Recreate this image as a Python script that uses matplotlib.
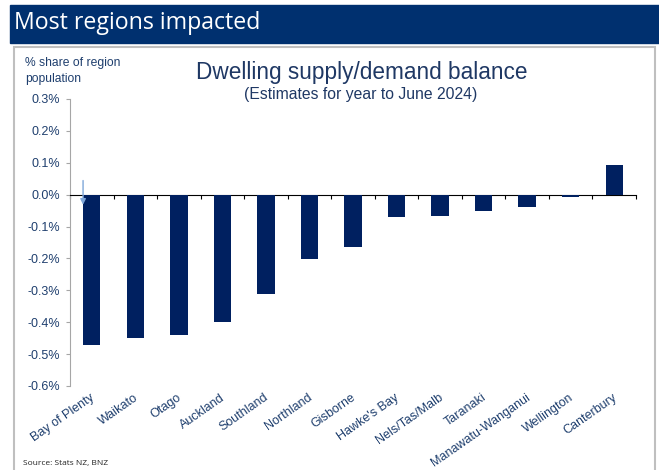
import numpy as np
import matplotlib.pyplot as plt
import matplotlib.transforms as mtransforms
from matplotlib.patches import Rectangle

regions = ["Bay of Plenty", "Waikato", "Otago", "Auckland", "Southland",
           "Northland", "Gisborne", "Hawke's Bay", "Nels/Tas/Malb", "Taranaki",
           "Manawatu-Wanganui", "Wellington", "Canterbury"]
balance = [-0.472, -0.448, -0.440, -0.398, -0.312, -0.202, -0.165,
           -0.071, -0.068, -0.052, -0.040, -0.007, 0.093]
yticks = [0.3, 0.2, 0.1, 0.0, -0.1, -0.2, -0.3, -0.4, -0.5, -0.6]

navy = "#002060"
label_col = "#1F3F6E"

fig = plt.figure(figsize=(6.59, 4.70), dpi=100)

# header band and chart frame
fig.patches.append(Rectangle((10/659, 1-43/470), 649/659, 38/470,
                             transform=fig.transFigure, color="#00306F", zorder=0))
fig.patches.append(Rectangle((14/659, -0.01), 641/659, 1-47/470+0.01,
                             transform=fig.transFigure, fill=False,
                             edgecolor="#BFBFBF", lw=1.5, zorder=0))
fig.text(14/659, 1-23/470, "Most regions impacted", color="white",
         fontsize=16.7, family="Open Sans", va="center", ha="left")

ax = fig.add_axes([70/659, 1-386/470, 566/659, 287/470])
x = np.arange(len(regions))
ax.bar(x, balance, width=0.4, color=navy, zorder=5)
ax.set_xlim(-0.5, len(regions)-0.5)
ax.set_ylim(-0.6, 0.3)

ax.set_yticks(yticks)
ax.set_yticklabels(["%.1f%%" % v for v in yticks], color=label_col,
                   fontsize=9, family="Liberation Sans")
ax.tick_params(axis="y", length=3, color="#A6A6A6", pad=4)
ax.spines["left"].set_color("#A6A6A6")
ax.spines["top"].set_visible(False)
ax.spines["right"].set_visible(False)

# x-axis line at zero with ticks at category boundaries
ax.spines["bottom"].set_position(("data", 0))
ax.spines["bottom"].set_color("black")
ax.spines["bottom"].set_zorder(4)
ax.set_xticks(np.arange(len(regions)+1)-0.5)
ax.set_xticklabels([])
ax.tick_params(axis="x", length=3, color="black", direction="out")

sec = ax.secondary_xaxis(0.0)
sec.set_xticks(x)
sec.set_xticklabels(regions, rotation=35, ha="right", color=label_col,
                    fontsize=9, family="Liberation Sans")
sec.tick_params(length=0, pad=4)
sec.spines["bottom"].set_visible(False)
shift = mtransforms.ScaledTranslation(5/100, 0, fig.dpi_scale_trans)
for lab in sec.get_xticklabels():
    lab.set_transform(lab.get_transform() + shift)

ax.annotate("", xy=(-0.2, -0.04), xytext=(-0.2, 0.053),
            arrowprops=dict(arrowstyle="-|>", color="#7FA7D9", lw=1,
                            mutation_scale=8), zorder=6)

fig.text(25/659, 1-63/470, "% share of region", fontsize=8.7,
         color=label_col, family="Liberation Sans", va="center")
fig.text(25/659, 1-79/470, "population", fontsize=8.7,
         color=label_col, family="Liberation Sans", va="center")
fig.text(362/659, 1-72/470, "Dwelling supply/demand balance", fontsize=16.3,
         color="#1F3864", family="Liberation Sans", ha="center", va="center")
fig.text(361/659, 1-95/470, "(Estimates for year to June 2024)", fontsize=11.3,
         color="#1F3864", family="Liberation Sans", ha="center", va="center")
fig.text(23/659, 1-463/470, "Source: Stats NZ, BNZ", fontsize=6,
         color="#222222", family="Open Sans", va="center")

fig.savefig("out.png", dpi=100)
